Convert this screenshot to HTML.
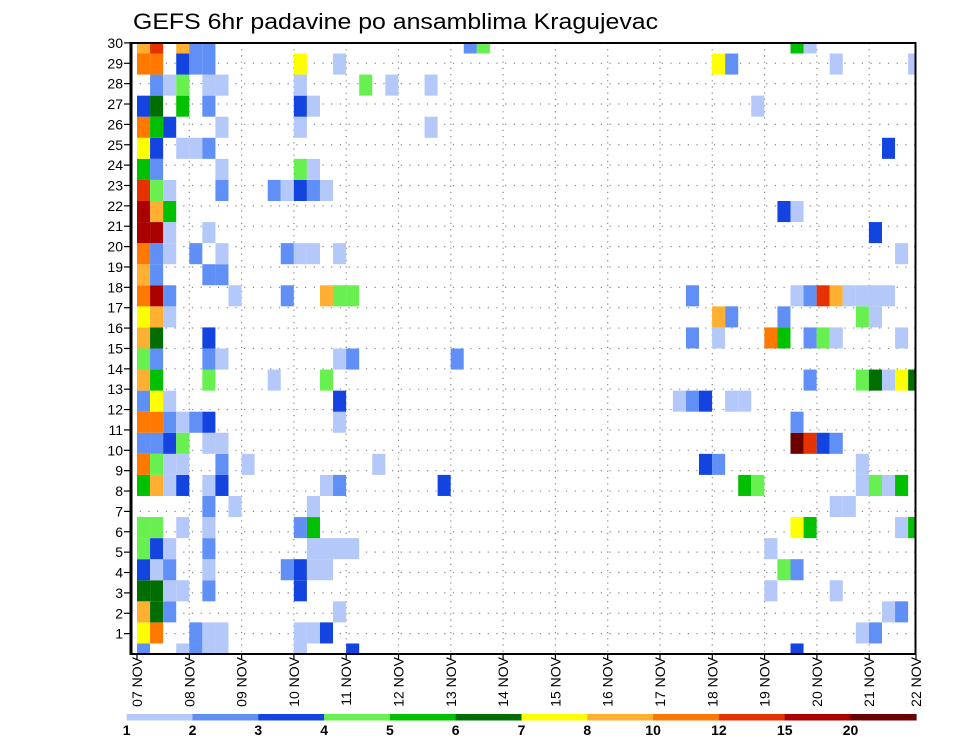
<!DOCTYPE html>
<html><head><meta charset="utf-8">
<style>
html,body{margin:0;padding:0;background:#fff;}
svg{display:block;font-family:"Liberation Sans","DejaVu Sans",sans-serif;}
</style></head>
<body>
<svg id="chart" width="960" height="742" viewBox="0 0 960 742" xmlns="http://www.w3.org/2000/svg">
  <rect x="0" y="0" width="960" height="742" fill="#fff"/>
  <text x="133" y="29" font-size="22" textLength="525" lengthAdjust="spacingAndGlyphs" fill="#000">GEFS 6hr padavine po ansamblima Kragujevac</text>
  <g id="grid"></g>
  <g id="cells"></g>
  <g id="axes"></g>
  <g id="legend"></g>
</svg>
<script>
// ---- data ----
var dayLabels = ["07 NOV","08 NOV","09 NOV","10 NOV","11 NOV","12 NOV","13 NOV","14 NOV","15 NOV","16 NOV","17 NOV","18 NOV","19 NOV","20 NOV","21 NOV","22 NOV"];
var memberLabels = [1,2,3,4,5,6,7,8,9,10,11,12,13,14,15,16,17,18,19,20,21,22,23,24,25,26,27,28,29,30];
var levels = [1,2,3,4,5,6,7,8,10,12,15,20];
var levelColors = ["#b4c8fa","#6090f6","#1444e0","#68f050","#00c000","#006e00","#ffff00","#ffb032","#ff7800","#e63200","#aa0000","#6a0000"];
var codeValues = {a:1.5,b:2.5,c:3.5,d:4.5,e:5.5,f:6.5,g:7.5,h:9,i:11,j:13.5,k:17.5,l:25};
// each member row (bottom to top): "step+code" entries, code maps to precip value
var members = [
 "0b 3a 4b 5a 6a 12a 16c 50c",
 "0g 1i 4b 5a 6a 12a 13a 14c 55a 56b",
 "0h 1f 2b 15a 57a 58b",
 "0f 1f 2a 3a 5b 12c 48a 53a",
 "0c 1a 2b 5a 11b 12c 13a 14a 49d 50b",
 "0d 1c 2a 5b 13a 14a 15a 16a 48a",
 "0d 1d 3a 5a 12b 13e 50g 51e 58a 59e",
 "5b 7a 13a 53a 54a",
 "0e 1h 2a 3c 5a 6c 14a 15b 23c 46e 47d 55a 56d 57a 58e",
 "0i 1d 2a 3a 6b 8a 18a 43c 44b 55a",
 "0b 1b 2c 3d 5a 6a 50l 51j 52c 53b",
 "0i 1i 2b 3a 4b 5c 15a 50b",
 "0b 1g 2a 15c 41a 42b 43c 45a 46a",
 "0h 1e 5d 10a 14d 51b 55d 56f 57a 58g 59f",
 "0d 1b 5b 6a 15a 16b 24b",
 "0h 1f 5c 42b 44a 48i 49e 51b 52d 53a 58a",
 "0g 1h 2a 44h 45b 49b 55d 56a",
 "0i 1k 2b 7a 11b 14h 15d 16d 42b 50a 51b 52j 53h 54a 55a 56a 57a",
 "0h 1b 5b 6b",
 "0i 1b 2a 4b 6a 11b 12a 13a 15a 58a",
 "0k 1k 2a 5a 56c",
 "0k 1h 2e 49c 50a",
 "0j 1d 2a 6b 10b 11a 12c 13b 14a",
 "0e 1b 6a 12d 13a",
 "0g 1c 3a 4a 5b 57c",
 "0i 1e 2c 6a 12a 22a",
 "0c 1f 3e 5b 12c 13a 47a",
 "1b 2a 3d 5a 6a 12a 17d 19a 22a",
 "0i 1i 3c 4b 5b 12g 15a 44g 45b 53a 59a",
 "0h 1j 3h 4b 5b 25b 26d 50e 51a"
];

// ---- geometry ----
var NS="http://www.w3.org/2000/svg";
var PL=131, PR=915.5, PT=43, PB=654;
var X0=137, STEP=13.07, DAY=52.3;
var ROWH=21.07, LABH=20.37;
function xStep(k){return X0+k*STEP;}
function xDay(d){return Math.min(X0+d*DAY, PR);}
function yMember(i){return PB - i*ROWH;}
function yLabel(n){return PB - n*LABH;}
function colorFor(v){var c=0;for(var i=0;i<levels.length;i++){if(v>=levels[i])c=i;}return levelColors[c];}
function mk(tag,attrs,parent){var e=document.createElementNS(NS,tag);for(var k in attrs)e.setAttribute(k,attrs[k]);parent.appendChild(e);return e;}

var grid=document.getElementById('grid');
for(var n=1;n<30;n++){
  var hl=mk('line',{x1:PL,x2:PR,y1:yLabel(n),y2:yLabel(n),stroke:'#888','stroke-width':1.2,'stroke-dasharray':'1.2 7.5'},grid);
  
  
}
for(var d=1;d<15;d++){
  var vl=mk('line',{x1:xDay(d),x2:xDay(d),y1:PT,y2:PB,stroke:'#888','stroke-width':1.2,'stroke-dasharray':'1.2 5'},grid);
  
  
}

var cells=document.getElementById('cells');
members.forEach(function(row,i){
  row.split(' ').forEach(function(tok){
    if(!tok)return;
    var k=parseInt(tok,10), code=tok.replace(/[0-9]/g,''), v=codeValues[code];
    var x1=Math.max(xStep(k),PL), x2=Math.min(xStep(k+1),PR);
    var yc=yMember(i), y1=Math.max(yc-ROWH/2,PT), y2=Math.min(yc+ROWH/2,PB);
    var r=mk('rect',{x:x1,y:y1,width:x2-x1,height:y2-y1,fill:colorFor(v)},cells);
    
    
  });
});

var axes=document.getElementById('axes');
var fr=mk('rect',{x:PL,y:PT,width:PR-PL,height:PB-PT,fill:'none',stroke:'#000','stroke-width':2},axes);


var la=mk('line',{x1:PL,x2:PL,y1:PT-1,y2:PB+1,stroke:'#000','stroke-width':3},axes);


memberLabels.forEach(function(n){
  var y=yLabel(n);
  var t=mk('line',{x1:PL-7,x2:PL,y1:y,y2:y,stroke:'#000','stroke-width':1.2},axes);
  
  
  var tx=mk('text',{x:PL-8,y:y+5,'font-size':14,'text-anchor':'end',fill:'#000'},axes);
  tx.textContent=n;
  
  
});
dayLabels.forEach(function(lbl,d){
  var x=(d===15)?916:xDay(d);
  var t=mk('line',{x1:x,x2:x,y1:PB,y2:PB+6,stroke:'#000','stroke-width':1.2},axes);
  
  
  var bx=x+5;
  var tx=mk('text',{x:0,y:0,'font-size':14,'text-anchor':'end',fill:'#000',transform:'translate('+bx+',657) rotate(-90)','xml:space':'preserve'},axes);
  tx.textContent=lbl.replace(' ','   ');
  
  
});

var legend=document.getElementById('legend');
var LX0=126.7, LW=65.8;
levels.forEach(function(lv,i){
  var r=mk('rect',{x:LX0+i*LW,y:714,width:LW+0.3,height:6.5,fill:levelColors[i]},legend);
  
  
  var t=mk('text',{x:LX0+i*LW,y:735,'font-size':14,'font-weight':'bold','text-anchor':'middle',fill:'#000'},legend);
  t.textContent=lv;
  
  
});
</script>
</body></html>
